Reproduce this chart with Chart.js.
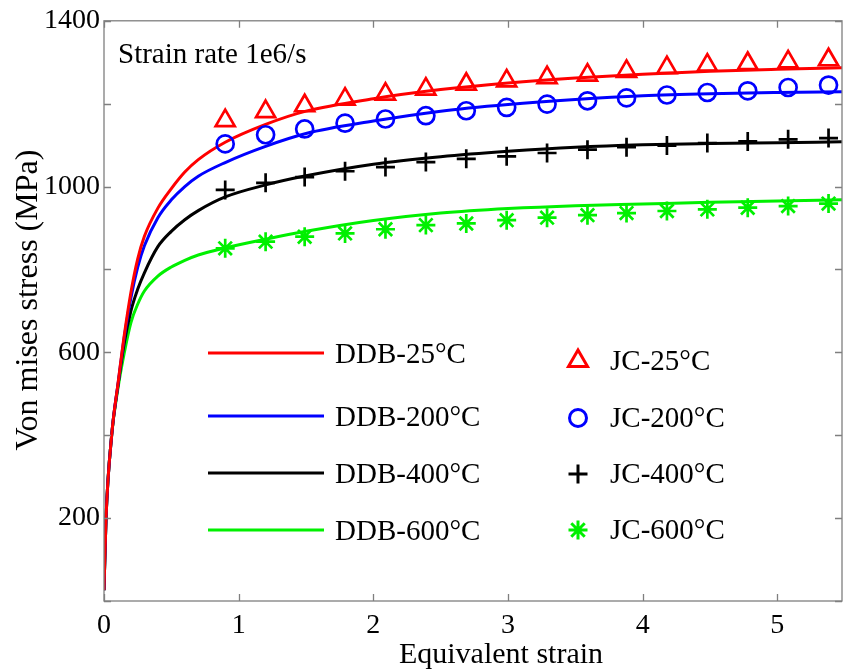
<!DOCTYPE html>
<html><head><meta charset="utf-8">
<script src="https://cdn.jsdelivr.net/npm/chart.js@4.4.0/dist/chart.umd.min.js"></script>
<style>html,body{margin:0;padding:0;background:#fff}</style>
</head><body>
<canvas id="c" width="846" height="670" style="display:block;width:846px;height:670px"></canvas>
<script>
const FONT = '"Liberation Serif", "Times New Roman", serif';

// DDB model curves (lines)
const strainDDB = [0, 0.015, 0.057, 0.106, 0.15, 0.2, 0.25, 0.3, 0.4, 0.5, 0.6, 0.7, 0.9, 1.2, 1.5, 2, 2.5, 3, 3.5, 4, 4.5, 5, 5.48];
const ddb25  = [26, 200, 400, 530, 640, 745, 825, 880, 948, 995, 1035, 1065, 1107, 1150, 1182, 1212, 1234, 1250, 1262, 1271, 1278, 1283, 1287];
const ddb200 = [26, 200, 400, 528, 635, 732, 805, 857, 925, 968, 1000, 1025, 1058, 1097, 1128, 1158, 1182, 1198, 1210, 1219, 1224, 1227, 1229];
const ddb400 = [26, 200, 400, 525, 622, 700, 752, 792, 855, 892, 920, 942, 975, 1004, 1026, 1054, 1072, 1085, 1095, 1101, 1104, 1106, 1108];
const ddb600 = [26, 200, 400, 518, 598, 672, 716, 748, 784, 806, 822, 835, 852, 873, 892, 918, 936, 947, 954, 958, 962, 965, 968];

// JC model points (markers)
const strainJC = [0.9, 1.2, 1.49, 1.79, 2.09, 2.39, 2.69, 2.99, 3.29, 3.59, 3.88, 4.18, 4.48, 4.78, 5.08, 5.38];
const jc25  = [1159, 1181, 1195, 1211, 1223, 1235, 1247, 1255, 1263, 1269, 1278, 1287, 1293, 1297, 1301, 1306];
const jc200 = [1103, 1125, 1139, 1153, 1163, 1171, 1183, 1191, 1199, 1207, 1214, 1221, 1227, 1231, 1239, 1245];
const jc400 = [992, 1009, 1023, 1037, 1047, 1059, 1067, 1073, 1081, 1089, 1095, 1099, 1105, 1109, 1114, 1117];
const jc600 = [851, 867, 879, 887, 897, 907, 911, 919, 925, 931, 936, 941, 945, 949, 953, 959];

const yTickLabels = [200, 600, 1000, 1400];
const xTitle = 'Equivalent strain';
const yTitle = 'Von mises stress (MPa)';
const note = 'Strain rate 1e6/s';

const pts = (xs, ys) => ys.map((v, i) => ({x: xs[i], y: v}));

function lineDS(label, xs, ys, color) {
  return {label, data: pts(xs, ys), showLine: true, borderColor: color, borderWidth: 3,
    pointRadius: 0, cubicInterpolationMode: 'monotone', fill: false, kind: 'line'};
}
function markDS(label, xs, ys, color, style, r) {
  return {label, data: pts(xs, ys), showLine: false, borderColor: color, backgroundColor: 'rgba(0,0,0,0)',
    pointStyle: style, pointRadius: r, pointBorderWidth: 2.7, pointHoverRadius: r, kind: 'mark'};
}

const datasets = [
  markDS('JC-25°C', strainJC, jc25, '#ff0000', 'triangle', 11),
  markDS('JC-200°C', strainJC, jc200, '#0000ff', 'circle', 8.5),
  markDS('JC-400°C', strainJC, jc400, '#000000', 'cross', 9.5),
  markDS('JC-600°C', strainJC, jc600, '#00f000', 'star', 9.5),
  lineDS('DDB-25°C', strainDDB, ddb25, '#ff0000'),
  lineDS('DDB-200°C', strainDDB, ddb200, '#0000ff'),
  lineDS('DDB-400°C', strainDDB, ddb400, '#000000'),
  lineDS('DDB-600°C', strainDDB, ddb600, '#00f000'),
];

const framePlugin = {
  id: 'frame',
  afterDraw(chart) {
    const {ctx, chartArea: a, scales: {x, y}} = chart;
    ctx.save();
    ctx.strokeStyle = '#7f7f7f';
    ctx.lineWidth = 1.3;
    ctx.strokeRect(a.left, a.top, a.right - a.left, a.bottom - a.top);
    const L = 7;
    ctx.beginPath();
    x.ticks.forEach(t => {
      const p = Math.round(x.getPixelForValue(t.value)) + 0.5;
      ctx.moveTo(p, a.bottom); ctx.lineTo(p, a.bottom - L);
      ctx.moveTo(p, a.top); ctx.lineTo(p, a.top + L);
    });
    y.ticks.forEach(t => {
      const p = Math.round(y.getPixelForValue(t.value)) + 0.5;
      ctx.moveTo(a.left, p); ctx.lineTo(a.left + L, p);
      ctx.moveTo(a.right, p); ctx.lineTo(a.right - L, p);
    });
    ctx.stroke();

    // axis titles
    ctx.fillStyle = '#000';
    ctx.textAlign = 'center';
    ctx.textBaseline = 'alphabetic';
    ctx.font = '30px ' + FONT;
    ctx.fillText(xTitle, 501, 663);
    ctx.save();
    ctx.font = '32px ' + FONT;
    ctx.translate(37, 300);
    ctx.rotate(-Math.PI / 2);
    ctx.fillText(yTitle, 0, 0);
    ctx.restore();

    // annotation
    ctx.font = '29px ' + FONT;
    ctx.textAlign = 'left';
    ctx.fillText(note, 118, 63);

    // legend
    const lines = chart.data.datasets.filter(d => d.kind === 'line');
    const marks = chart.data.datasets.filter(d => d.kind === 'mark');
    const rowsL = [353, 416, 473, 530];
    const rowsM = [361, 418, 474, 530];
    lines.forEach((d, i) => {
      ctx.strokeStyle = d.borderColor; ctx.lineWidth = 3;
      ctx.beginPath(); ctx.moveTo(208, rowsL[i]); ctx.lineTo(324, rowsL[i]); ctx.stroke();
      ctx.fillStyle = '#000';
      ctx.fillText(d.label, 335, rowsL[i] + 10);
    });
    marks.forEach((d, i) => {
      ctx.strokeStyle = d.borderColor; ctx.fillStyle = 'rgba(0,0,0,0)';
      Chart.helpers.drawPoint(ctx, {pointStyle: d.pointStyle, radius: d.pointRadius, borderWidth: d.pointBorderWidth, rotation: 0}, 578, rowsM[i]);
      ctx.fillStyle = '#000';
      ctx.fillText(d.label, 610, rowsM[i] + 9);
    });
    ctx.restore();
  }
};

new Chart(document.getElementById('c'), {
  type: 'scatter',
  data: {datasets},
  options: {
    responsive: false,
    animation: false,
    devicePixelRatio: 1,
    layout: {autoPadding: false, padding: {top: 18, right: 4, left: 0, bottom: 0}},
    plugins: {legend: {display: false}, tooltip: {enabled: false}},
    elements: {point: {borderWidth: 2.7}},
    scales: {
      x: {
        type: 'linear', min: 0, max: 5.48,
        ticks: {stepSize: 1, includeBounds: false, color: '#000', font: {family: FONT, size: 28}, padding: 8, maxRotation: 0, autoSkip: false},
        grid: {display: false, drawTicks: false},
        border: {display: false},
        afterFit(s) { s.height = 69; }
      },
      y: {
        type: 'linear', min: 0, max: 1400,
        ticks: {stepSize: 200, autoSkip: false, color: '#000', font: {family: FONT, size: 28}, padding: 4,
          callback: v => yTickLabels.includes(v) ? String(v) : ''},
        grid: {display: false, drawTicks: false},
        border: {display: false},
        afterFit(s) { s.width = 104; }
      }
    }
  },
  plugins: [framePlugin]
});
</script>
</body></html>
